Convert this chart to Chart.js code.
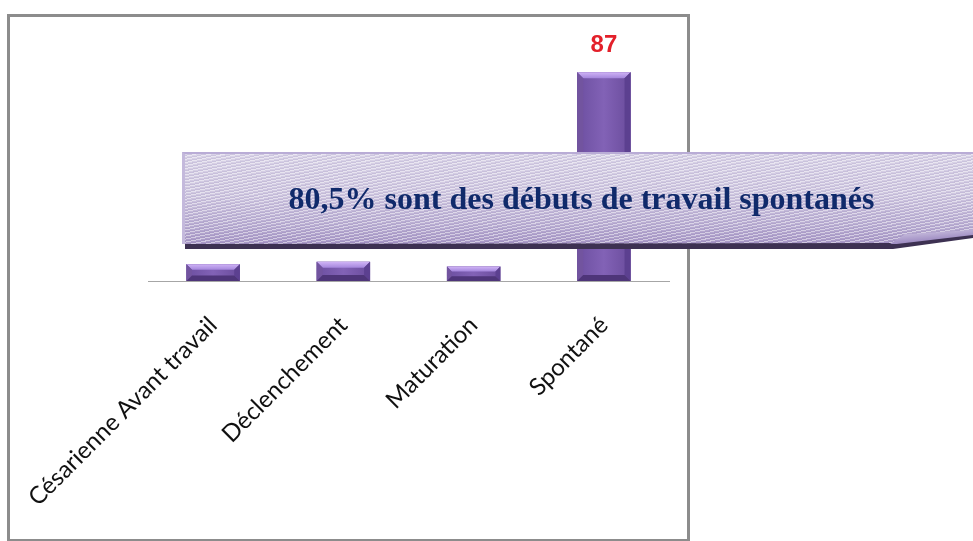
<!DOCTYPE html>
<html>
<head>
<meta charset="utf-8">
<script src="https://cdn.jsdelivr.net/npm/chart.js@4/dist/chart.umd.min.js"></script>
<style>
  body { margin: 0; background: #fff; width: 973px; height: 541px; overflow: hidden; position: relative; }
  #chart { position: absolute; left: 0; top: 0; }
  .frame { position: absolute; left: 7px; top: 14px; width: 683px; height: 528px; box-sizing: border-box; border: 3px solid #8c8c8c; }
  .banner__shadow { position: absolute; left: 185px; top: 156px; width: 788px; height: 93px; background: #3d3152;
    clip-path: polygon(0 0, 100% 0, 100% 82px, 708px 93px, 0 93px); }
  .banner { position: absolute; left: 182px; top: 152px; width: 791px; height: 92px; box-sizing: border-box;
    border-top: 2px solid #b9acd6; border-left: 3px solid #c4b9dc;
    background:
      repeating-linear-gradient(-12deg, rgba(255,255,255,0.45) 0 1px, rgba(90,70,140,0.10) 1px 2px, rgba(255,255,255,0) 2px 3px),
      linear-gradient(180deg, #d9d3e7 0%, #cfc7e0 45%, #b9add2 80%, #a898c6 100%);
    clip-path: polygon(0 0, 100% 0, 100% 80px, 712px 91px, 0 92px); }
  .banner__curl { position: absolute; left: 890px; top: 230px; width: 83px; height: 14px;
    background: linear-gradient(175deg, #d8d0e8 0%, #a493c6 60%, #8a78b0 100%);
    clip-path: polygon(100% 0, 100% 35%, 8% 100%, 0 100%, 18% 30%); }
  .banner__text { position: absolute; left: 182px; top: 152px; width: 791px; height: 92px;
    text-align: center; font: bold 32px "Liberation Serif", "Times New Roman", serif; line-height: 92px; color: #102a6b;
    padding-left: 8px; box-sizing: border-box; }
</style>
</head>
<body>
<canvas id="chart" width="973" height="541"></canvas>
<div class="frame"></div>
<div class="banner__shadow"></div>
<div class="banner"></div>
<div class="banner__curl"></div>
<div class="banner__text">80,5% sont des débuts de travail spontanés</div>
<script>
// data
const categories = ['Césarienne Avant travail', 'Déclenchement', 'Maturation', 'Spontané'];
const values = [7, 8, 6, 87];

// bevel look for bars
const bevelBars = {
  id: 'bevelBars',
  afterDatasetsDraw(chart) {
    const ctx = chart.ctx;
    const meta = chart.getDatasetMeta(0);
    meta.data.forEach(function (bar, i) {
      const p = bar.getProps(['x', 'y', 'base', 'width'], true);
      const l = p.x - p.width / 2, r = p.x + p.width / 2;
      const t = p.y, b = p.base;
      const h = b - t;
      const bv = Math.min(6, h / 3);
      ctx.save();
      // body
      let g = ctx.createLinearGradient(l, 0, r, 0);
      g.addColorStop(0, '#6c4fa0');
      g.addColorStop(0.5, '#8262b6');
      g.addColorStop(1, '#6a4c9c');
      ctx.fillStyle = g;
      ctx.fillRect(l, t, p.width, h);
      // top
      g = ctx.createLinearGradient(0, t, 0, t + bv);
      g.addColorStop(0, '#d0b4f6');
      g.addColorStop(1, '#a486dc');
      ctx.fillStyle = g;
      ctx.beginPath();
      ctx.moveTo(l, t); ctx.lineTo(r, t); ctx.lineTo(r - bv, t + bv); ctx.lineTo(l + bv, t + bv);
      ctx.closePath(); ctx.fill();
      // left
      ctx.fillStyle = '#72549f';
      ctx.beginPath();
      ctx.moveTo(l, t); ctx.lineTo(l + bv, t + bv); ctx.lineTo(l + bv, b - bv); ctx.lineTo(l, b);
      ctx.closePath(); ctx.fill();
      // right
      ctx.fillStyle = '#5c4090';
      ctx.beginPath();
      ctx.moveTo(r, t); ctx.lineTo(r - bv, t + bv); ctx.lineTo(r - bv, b - bv); ctx.lineTo(r, b);
      ctx.closePath(); ctx.fill();
      // bottom
      ctx.fillStyle = '#4e3579';
      ctx.beginPath();
      ctx.moveTo(l, b); ctx.lineTo(r, b); ctx.lineTo(r - bv, b - bv); ctx.lineTo(l + bv, b - bv);
      ctx.closePath(); ctx.fill();
      // value
      ctx.fillStyle = '#e3202a';
      ctx.font = 'bold 24px "Liberation Sans", Arial, sans-serif';
      ctx.textAlign = 'center';
      ctx.textBaseline = 'middle';
      ctx.fillText(values[i], p.x, t - 27);
      ctx.restore();
    });
  }
};

new Chart(document.getElementById('chart'), {
  type: 'bar',
  data: {
    labels: categories,
    datasets: [{
      data: values,
      backgroundColor: '#7a5aa8',
      categoryPercentage: 1,
      barPercentage: 0.41
    }]
  },
  options: {
    responsive: false,
    animation: false,
    events: [],
    layout: { padding: { left: 148, right: 304, top: 41, bottom: 0 } },
    plugins: { legend: { display: false }, tooltip: { enabled: false } },
    scales: {
      y: { display: false, min: 0, max: 100 },
      x: {
        grid: { display: false },
        border: { display: true, color: '#a6a6a6', width: 1 },
        ticks: {
          color: '#111',
          font: { family: 'Lato', size: 24 },
          minRotation: 45,
          maxRotation: 45,
          autoSkip: false,
          padding: 22
        },
        afterFit: function (scale) {
          scale.height = 260;
          scale.paddingLeft = 0;
          scale.paddingRight = 0;
        }
      }
    }
  },
  plugins: [bevelBars]
});
</script>
</body>
</html>
